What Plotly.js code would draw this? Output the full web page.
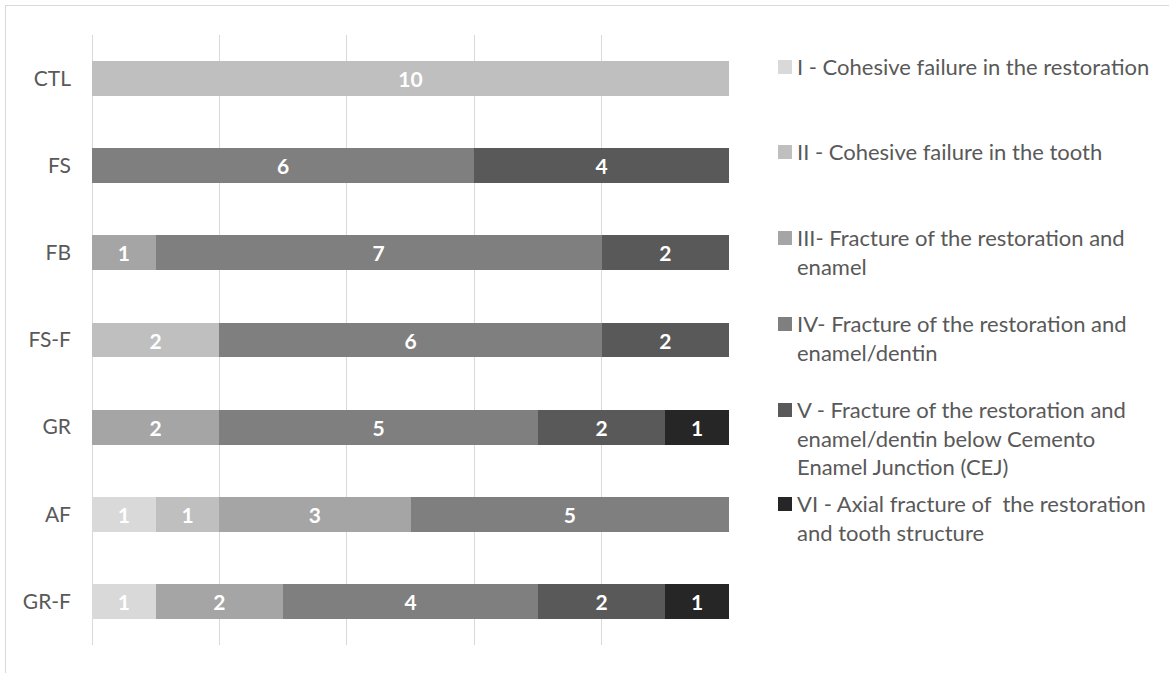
<!DOCTYPE html>
<html>
<head>
<meta charset="utf-8">
<script src="https://cdn.plot.ly/plotly-3.0.1.min.js"></script>
<style>
  html, body { margin: 0; padding: 0; background: #fff; }
  #wrap { position: relative; width: 1169px; height: 673px; overflow: hidden; }
  #chart { width: 1169px; height: 673px; }
  #frame { position: absolute; left: 5px; top: 5px; right: -2px; bottom: -2px;
           border-top: 1px solid #d9d9d9; border-left: 1px solid #d9d9d9; pointer-events: none; }
</style>
</head>
<body>
<div id="wrap">
  <div id="chart"></div>
  <div id="frame"></div>
</div>
<script>
// Groups (top to bottom)
const categories = ['CTL', 'FS', 'FB', 'FS-F', 'GR', 'AF', 'GR-F'];

// Number of specimens per failure mode in each group
const modeI   = [0, 0, 0, 0, 0, 1, 1];
const modeII  = [10, 0, 0, 2, 0, 1, 0];
const modeIII = [0, 0, 1, 0, 2, 3, 2];
const modeIV  = [0, 6, 7, 6, 5, 5, 4];
const modeV   = [0, 4, 2, 2, 2, 0, 2];
const modeVI  = [0, 0, 0, 0, 1, 0, 1];

const seriesNames = [
  'I - Cohesive failure in the restoration',
  'II - Cohesive failure in the tooth',
  'III- Fracture of the restoration and<br>enamel',
  'IV- Fracture of the restoration and<br>enamel/dentin',
  'V - Fracture of the restoration and<br>enamel/dentin below Cemento<br>Enamel Junction (CEJ)',
  'VI - Axial fracture of  the restoration<br>and tooth structure'
];
const seriesValues = [modeI, modeII, modeIII, modeIV, modeV, modeVI];
const seriesColors = ['#d9d9d9', '#bfbfbf', '#a5a5a5', '#7f7f7f', '#595959', '#262626'];

const FONT = 'Lato, "Open Sans", sans-serif';
const TEXT_GRAY = '#595959';

// Plot area in pixels
const W = 1169, H = 673;
const PL = 92, PR = 729, PT = 35, PB = 645;
const xp = px => (px - PL) / (PR - PL);
const yp = py => (PB - py) / (PB - PT);

const traces = seriesValues.map((vals, i) => ({
  type: 'bar',
  orientation: 'h',
  y: categories,
  x: vals.map(v => (v ? v : null)),
  text: vals.map(v => (v ? String(v) : '')),
  textposition: 'inside',
  insidetextanchor: 'middle',
  textangle: 0,
  constraintext: 'none',
  textfont: { family: FONT, size: 21, color: '#ffffff', weight: 'bold' },
  marker: { color: seriesColors[i], line: { width: 0 } },
  name: seriesNames[i],
  showlegend: false,
  hoverinfo: 'skip'
}));

// Legend drawn beside the plot: colour square + label
const legendCenters = [67, 152, 238, 324, 410, 504];
const LEG_FONT = 22;
const shapes = [];
const annotations = [];
seriesNames.forEach((name, i) => {
  const cy = legendCenters[i];
  shapes.push({
    type: 'rect', xref: 'paper', yref: 'paper',
    x0: xp(778), x1: xp(792), y0: yp(cy + 7), y1: yp(cy - 7),
    fillcolor: seriesColors[i], line: { width: 0 }
  });
  annotations.push({
    xref: 'paper', yref: 'paper',
    x: xp(795), y: yp(cy - LEG_FONT * 0.65 - 2),
    xanchor: 'left', yanchor: 'top', align: 'left',
    showarrow: false,
    text: name,
    font: { family: FONT, size: LEG_FONT, color: TEXT_GRAY }
  });
});

const layout = {
  width: W, height: H,
  paper_bgcolor: 'rgba(0,0,0,0)',
  plot_bgcolor: 'rgba(0,0,0,0)',
  margin: { l: PL, r: W - PR, t: PT, b: H - PB, pad: 0 },
  barmode: 'stack',
  bargap: 0.6,
  showlegend: false,
  xaxis: {
    range: [0, 10], tick0: 0, dtick: 2,
    showgrid: true, gridcolor: '#d9d9d9', gridwidth: 1,
    zeroline: true, zerolinecolor: '#d9d9d9', zerolinewidth: 1,
    showline: false, showticklabels: false, ticks: '',
    fixedrange: true
  },
  yaxis: {
    type: 'category',
    categoryorder: 'array', categoryarray: categories,
    autorange: 'reversed',
    showgrid: false, zeroline: false, showline: false,
    ticks: '', ticklabelstandoff: 20,
    tickfont: { family: FONT, size: 21, color: TEXT_GRAY },
    fixedrange: true
  },
  shapes: shapes,
  annotations: annotations
};

Plotly.newPlot('chart', traces, layout, { staticPlot: true, displayModeBar: false });
</script>
</body>
</html>
